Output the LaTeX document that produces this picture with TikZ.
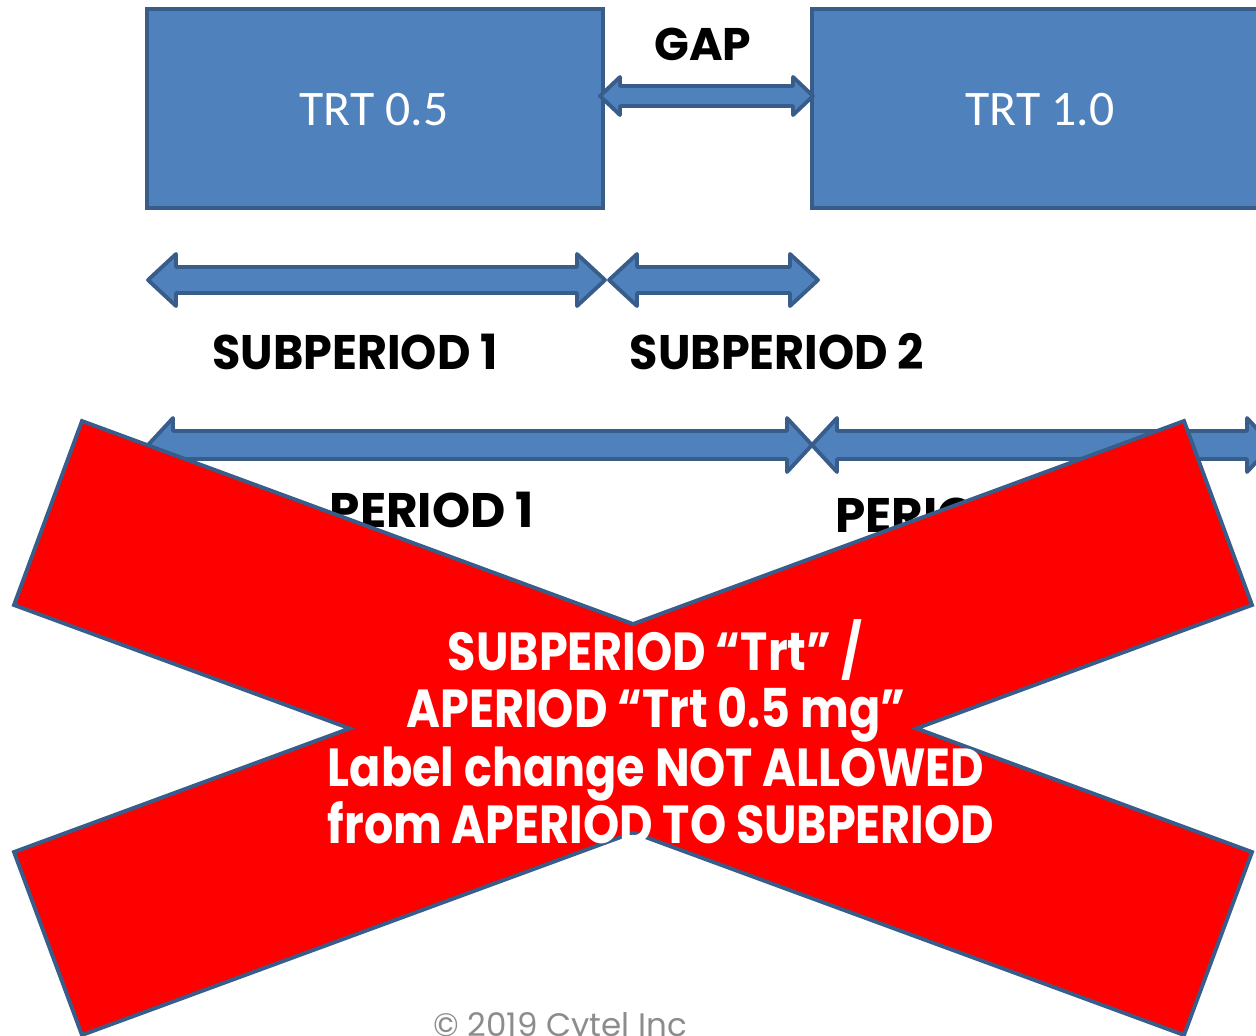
\documentclass[tikz,border=0pt]{standalone}
\usepackage{fontspec}
\newfontfamily\gothic{Poppins}
\newfontfamily\calib{Carlito}
\definecolor{boxblue}{HTML}{4F81BD}
\definecolor{edgeblue}{HTML}{385D8A}
\definecolor{xred}{HTML}{FF0000}
\definecolor{copygray}{HTML}{8C8C8C}
\newcommand{\dblarrow}[6]{% xl xr y headlen headhalf shafthalf
  \draw[arrowshape] (#1,#3) -- (#1+#4,#3-#5) -- (#1+#4,#3-#6) -- (#2-#4,#3-#6) -- (#2-#4,#3-#5)
   -- (#2,#3) -- (#2-#4,#3+#5) -- (#2-#4,#3+#6) -- (#1+#4,#3+#6) -- (#1+#4,#3+#5) -- cycle;}
\newcommand{\sqz}[1]{\scalebox{0.86}[1]{#1}}
\begin{document}
\begin{tikzpicture}[x=0.02cm,y=-0.02cm,
  arrowshape/.style={fill=boxblue,draw=edgeblue,line width=2.2pt,line join=round},
  trtbox/.style={fill=boxblue,draw=edgeblue,line width=2pt},
  xband/.style={fill=xred,draw=edgeblue,line width=2.2pt,line join=miter},
  trtlabel/.style={text=white,font=\calib\fontsize{28.3}{30}\selectfont,inner sep=0pt,anchor=base},
  blacklabel/.style={text=black,font=\gothic\bfseries\fontsize{27.6}{30}\selectfont,inner sep=0pt,anchor=base},
  redlabel/.style={text=white,font=\gothic\bfseries\fontsize{30.5}{32}\selectfont,inner sep=0pt,anchor=base}]
\useasboundingbox (0,0) rectangle (1256,1035);
\clip (0,0) rectangle (1256,1035);
% boxes
\draw[trtbox] (147,9) rectangle (603,208);
\draw[trtbox] (812,9) rectangle (1280,208);
\node[trtlabel] (trt05) at (374,125) {TRT 0.5};
\node[trtlabel] (trt10) at (1040,125) {TRT 1.0};
% gap arrow
\dblarrow{600}{813}{96}{20}{19}{10}
\node[blacklabel,font=\gothic\bfseries\fontsize{26}{28}\selectfont] (gap) at (703,60) {GAP};
% subperiod arrows
\dblarrow{148}{605}{280}{28}{26}{13}
\dblarrow{609}{818}{280}{28}{26}{13}
\node[blacklabel] (sp1) at (355,369) {\scalebox{0.95}[1]{SUBPERIOD 1}};
\node[blacklabel] (sp2) at (777,369) {\scalebox{0.95}[1]{SUBPERIOD 2}};
% period arrows
\dblarrow{148}{812}{445}{25}{27}{14}
\dblarrow{812}{1272}{445}{25}{27}{14}
\node[blacklabel] (p1) at (432,527) {PERIOD 1};
\node[blacklabel,anchor=base west] (p2) at (835,532) {PERIOD 2};
% copyright
\node[text=copygray,font=\gothic\fontsize{18.5}{20}\selectfont,inner sep=0pt,anchor=base] (copy) at (560,1036) {\textcopyright{} 2019 Cytel Inc};
% red X as one outline
\coordinate (a1) at (82,421);
\coordinate (a2) at (1252,852);
\coordinate (a3) at (1184,1035);
\coordinate (a4) at (14,605);
\coordinate (b1) at (14,852);
\coordinate (b2) at (1184,421);
\coordinate (b3) at (1252,605);
\coordinate (b4) at (82,1035);
\coordinate (xt) at (intersection of a1--a2 and b1--b2);
\coordinate (xr) at (intersection of a1--a2 and b4--b3);
\coordinate (xb) at (intersection of a4--a3 and b4--b3);
\coordinate (xl) at (intersection of a4--a3 and b1--b2);
\draw[xband] (a1) -- (xt) -- (b2) -- (b3) -- (xr) -- (a2) -- (a3) -- (xb) -- (b4) -- (b1) -- (xl) -- (a4) -- cycle;
\node[redlabel] (l1) at (655,670) {\sqz{SUBPERIOD “Trt” /}};
\node[redlabel] (l2) at (656,727) {\sqz{APERIOD “Trt 0.5 mg”}};
\node[redlabel] (l3) at (656,786) {\sqz{Label change NOT ALLOWED}};
\node[redlabel] (l4) at (661,843) {\sqz{from APERIOD TO SUBPERIOD}};
\end{tikzpicture}
\end{document}
